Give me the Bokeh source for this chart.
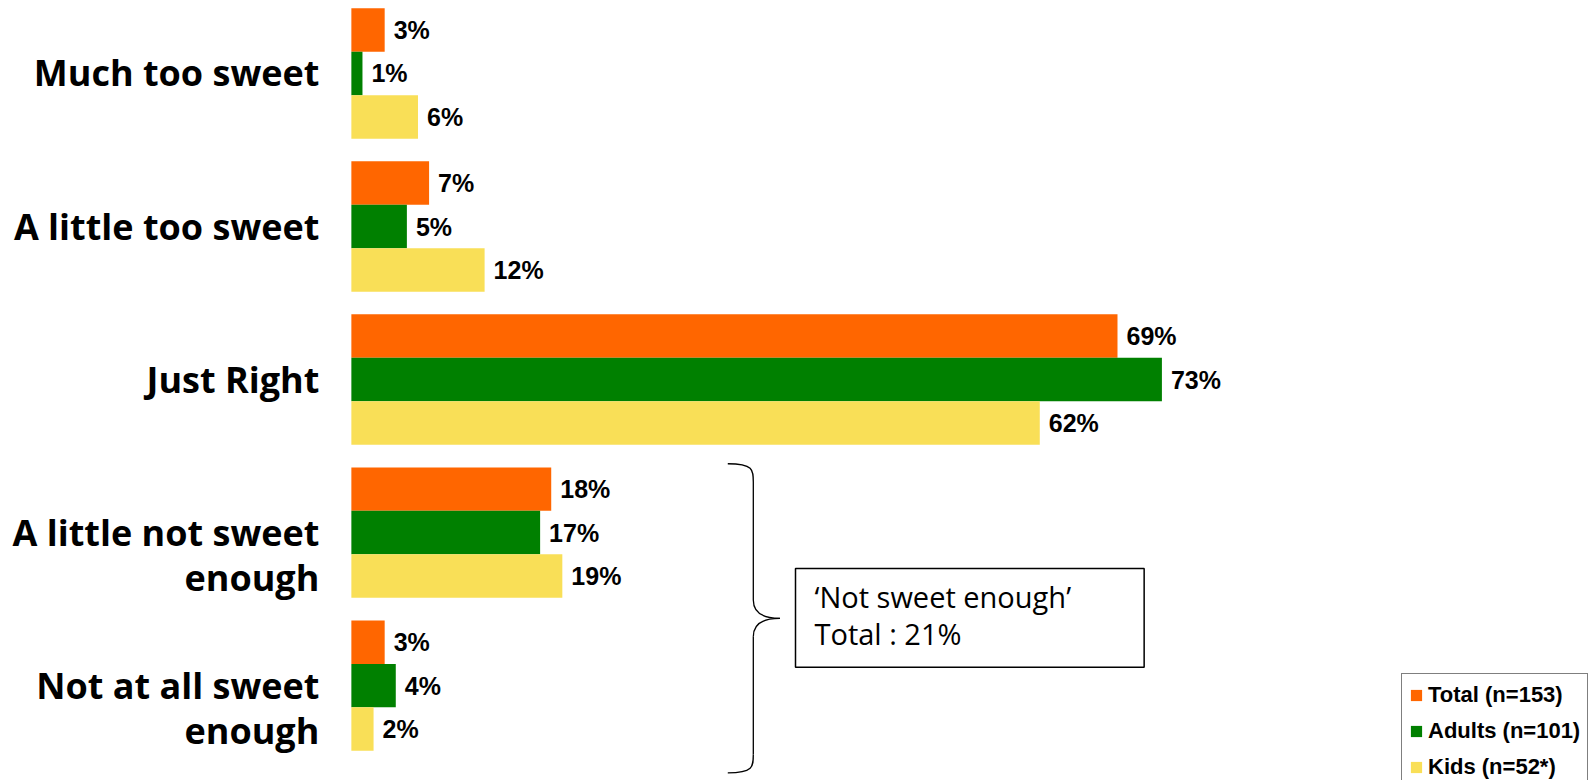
from bokeh.plotting import figure
from bokeh.models import ColumnDataSource, Range1d, Legend, LegendItem
from bokeh.core.properties import value
from bokeh.embed import file_html
from bokeh.resources import INLINE

categories = ["Much too sweet", "A little too sweet", "Just Right",
              "A little not sweet\nenough", "Not at all sweet\nenough"]
series_names = ["Total (n=153)", "Adults (n=101)", "Kids (n=52*)"]
total = [3, 7, 69, 18, 3]
adults = [1, 5, 73, 17, 4]
kids = [6, 12, 62, 19, 2]
colors = ["#FF6600", "#008000", "#F9DF57"]
note_text = "\u2018Not sweet enough\u2019\nTotal : 21%"

W, H = 1590, 780
p = figure(width=W, height=H, output_backend="svg", toolbar_location=None,
           x_range=Range1d(-31.6, 111.6), y_range=Range1d(4.62, -0.477),
           min_border=0, outline_line_color=None)
p.axis.visible = False
p.grid.visible = False
p.background_fill_color = "white"

bar_h = 0.284
offsets = [-bar_h, 0.0, bar_h]
renderers = []
for vals, off, col in zip([total, adults, kids], offsets, colors):
    ys = [i + off for i in range(len(categories))]
    src = ColumnDataSource(dict(y=ys, v=vals, t=[f"{v}%" for v in vals]))
    r = p.hbar(y="y", right="v", left=0, height=bar_h, source=src,
               fill_color=col, line_color=None)
    renderers.append(r)
    p.text(x="v", y="y", text="t", source=src, x_offset=9,
           text_baseline="middle", text_align="left",
           text_font=value("Liberation Sans"), text_font_style="bold",
           text_font_size="25px", text_color="black")

# category labels
csrc = ColumnDataSource(dict(y=list(range(len(categories))), x=[0] * len(categories), t=categories))
p.text(x="x", y="y", text="t", source=csrc, x_offset=-32, y_offset=-25,
       text_align="right", text_baseline="top", text_line_height=0.93,
       text_font=value("Open Sans"), text_font_style="bold",
       text_font_size="36px", text_color="black")

# curly brace spanning the "not sweet enough" groups
top_y = 3 - 0.45
bot_y = 4 + 0.57
mid_y = (top_y + bot_y) / 2
xl, xv, xp = 33.9, 36.2, 38.6
xm = xv + 0.35 * (xp - xv)
c = 0.12
p.bezier(x0=[xl, xv, xp, xv], y0=[top_y, mid_y - c, mid_y, bot_y - c],
         x1=[xv, xp, xv, xl], y1=[top_y + c, mid_y, mid_y + c, bot_y],
         cx0=[xv, xv, xm, xv], cy0=[top_y, mid_y - c / 3, mid_y, bot_y - c / 3],
         cx1=[xv, xm, xv, xv], cy1=[top_y + c / 3, mid_y, mid_y + c / 3, bot_y],
         line_color="black", line_width=1.3)
p.multi_line(xs=[[xv, xv], [xv, xv]], ys=[[top_y + c, mid_y - c], [mid_y + c, bot_y - c]],
             line_color="black", line_width=1.3)

# annotation box
p.quad(left=[40.0], right=[71.4], top=[3.235], bottom=[3.88],
       fill_color="white", line_color="black", line_width=1.5)
p.text(x=[40.0], y=[3.235], text=[note_text], x_offset=19, y_offset=8,
       text_align="left", text_baseline="top", text_line_height=0.95,
       text_font=value("Open Sans"), text_font_size="29px", text_color="black")

legend = Legend(items=[LegendItem(label=n, renderers=[r]) for n, r in zip(series_names, renderers)],
                location=(1401, -8), orientation="vertical",
                label_text_font="Liberation Sans", label_text_font_style="bold",
                label_text_font_size="22px", label_text_color="black",
                label_height=27, label_standoff=5,
                glyph_width=14, glyph_height=14, spacing=9, padding=7, margin=0,
                border_line_color="black", border_line_width=1.5,
                background_fill_color="white", background_fill_alpha=1.0)
p.add_layout(legend)

open("out.html", "w").write(file_html(p, INLINE))
